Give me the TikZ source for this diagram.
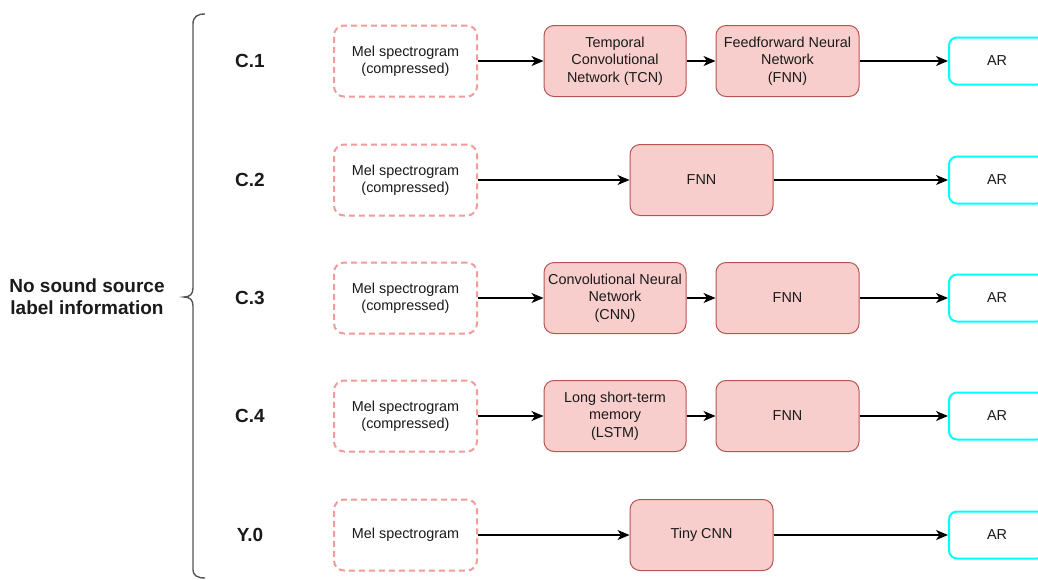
\documentclass[tikz,border=0pt]{standalone}
\usepackage{fontspec}
\setmainfont{Liberation Sans}
\usetikzlibrary{arrows.meta}
\definecolor{pinkfill}{HTML}{F8CECC}
\definecolor{pinkline}{HTML}{B85450}
\definecolor{dashline}{HTML}{F19C99}
\definecolor{arcyan}{HTML}{00FFFF}
\definecolor{txt}{HTML}{1A1A1A}
\definecolor{bracec}{HTML}{555555}
\tikzset{
  melbox/.style={draw=dashline, line width=2pt, dash pattern=on 6pt off 4pt, rounded corners=10pt,
    minimum width=143pt, minimum height=71pt, align=center, text=txt,
    font=\fontsize{14.4}{17.3}\selectfont, inner sep=0pt},
  netbox/.style={draw=pinkline, fill=pinkfill, line width=1pt, rounded corners=10pt,
    minimum width=142pt, minimum height=71pt, align=center, text=txt,
    font=\fontsize{14.4}{17.3}\selectfont, inner sep=0pt},
  arbox/.style={draw=arcyan, line width=2pt, rounded corners=8pt,
    minimum width=96pt, minimum height=47pt, text=txt,
    font=\fontsize{14.4}{17.3}\selectfont, inner sep=0pt},
  rowlabel/.style={font=\fontsize{19}{22}\bfseries\selectfont, text=txt},
  flow/.style={draw=black, line width=1.2pt, -{Stealth[length=12pt,width=10pt,inset=3.5pt]}},
}
\begin{document}
\begin{tikzpicture}[x=1pt,y=-1pt]
\clip (0,0) rectangle (1038,579);
\fill[white] (0,0) rectangle (1038,579);

% left label and brace
\node[rowlabel, align=center, font=\fontsize{19}{22}\bfseries\selectfont] (nolabel) at (87,297) {No sound source\\label information};
\draw[bracec, line width=1.4pt] (205,14) .. controls (197,14) and (193,17) .. (193,24)
  -- (193,288) .. controls (193,294) and (190,297) .. (184,297)
  .. controls (190,297) and (193,300) .. (193,306)
  -- (193,570) .. controls (193,575) and (197,578) .. (205,578);

% row labels
\node[rowlabel] (l1) at (250,61) {C.1};
\node[rowlabel] (l2) at (250,180) {C.2};
\node[rowlabel] (l3) at (250,298) {C.3};
\node[rowlabel] (l4) at (250,416) {C.4};
\node[rowlabel] (l5) at (250,535) {Y.0};

% row C.1
\node[melbox] (m1) at (405.5,61) {Mel spectrogram\\(compressed)};
\node[netbox] (t1) at (615,61) {Temporal\\Convolutional\\Network (TCN)};
\node[netbox, minimum width=143pt] (f1) at (787.5,61) {Feedforward Neural\\Network\\(FNN)};
\node[arbox] (a1) at (997,61) {AR};
\draw[flow] (m1) -- (t1);
\draw[flow] (t1) -- (f1);
\draw[flow] (f1) -- (a1);

% row C.2
\node[melbox] (m2) at (405.5,180) {Mel spectrogram\\(compressed)};
\node[netbox, minimum width=143pt] (f2) at (701.5,180) {FNN};
\node[arbox] (a2) at (997,180) {AR};
\draw[flow] (m2) -- (f2);
\draw[flow] (f2) -- (a2);

% row C.3
\node[melbox] (m3) at (405.5,298) {Mel spectrogram\\(compressed)};
\node[netbox] (t3) at (615,298) {Convolutional Neural\\Network\\(CNN)};
\node[netbox, minimum width=143pt] (f3) at (787.5,298) {FNN};
\node[arbox] (a3) at (997,298) {AR};
\draw[flow] (m3) -- (t3);
\draw[flow] (t3) -- (f3);
\draw[flow] (f3) -- (a3);

% row C.4
\node[melbox] (m4) at (405.5,416) {Mel spectrogram\\(compressed)};
\node[netbox] (t4) at (615,416) {Long short-term\\memory\\(LSTM)};
\node[netbox, minimum width=143pt] (f4) at (787.5,416) {FNN};
\node[arbox] (a4) at (997,416) {AR};
\draw[flow] (m4) -- (t4);
\draw[flow] (t4) -- (f4);
\draw[flow] (f4) -- (a4);

% row Y.0
\node[melbox] (m5) at (405.5,535) {Mel spectrogram};
\node[netbox, minimum width=143pt] (f5) at (701.5,535) {Tiny CNN};
\node[arbox] (a5) at (997,535) {AR};
\draw[flow] (m5) -- (f5);
\draw[flow] (f5) -- (a5);
\end{tikzpicture}
\end{document}
